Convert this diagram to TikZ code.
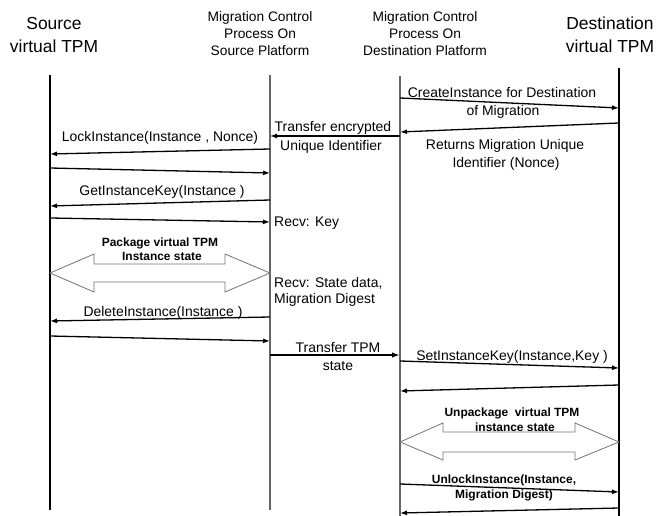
\documentclass[tikz,border=0pt]{standalone}
\usepackage{fontspec}
\setmainfont{Liberation Sans}
\usetikzlibrary{arrows.meta}

\begin{document}
\begin{tikzpicture}[x=1bp, y=-1bp,
  hdbig/.style={font=\fontsize{17.5}{23}\selectfont, align=center, inner sep=0pt},
  hdsmall/.style={font=\fontsize{13.8}{17}\selectfont, align=center, inner sep=0pt},
  msg/.style={font=\fontsize{14}{17}\selectfont, inner sep=0pt, anchor=base},
  bmsg/.style={font=\fontsize{12}{14}\selectfont\bfseries, inner sep=0pt, anchor=base},
  life/.style={line width=1.2bp},
  lifegray/.style={line width=1.2bp, draw=black!60},
  call/.style={line width=1.3bp, -{Latex[length=7bp,width=5bp]}},
  bigcall/.style={line width=2bp, -{Latex[length=8bp,width=5.5bp]}},
  fatarrow/.style={draw=black!55, line width=0.8bp, fill=white}
]
\useasboundingbox (0,0) rectangle (661,516);

% participant headings
\node[hdbig]   (hsrc) at (54,35)  {Source\\virtual TPM};
\node[hdsmall] (hmcs) at (260,34) {Migration Control\\Process On\\Source Platform};
\node[hdsmall] (hmcd) at (425,34) {Migration Control\\Process On\\Destination Platform};
\node[hdbig]   (hdst) at (610,35) {Destination\\virtual TPM};

% lifelines
\coordinate (s0) at (50,75);   \coordinate (s1) at (50,510);
\coordinate (a0) at (270,75);  \coordinate (a1) at (270,510);
\coordinate (b0) at (400,76);  \coordinate (b1) at (400,516);
\coordinate (d0) at (619,68);  \coordinate (d1) at (619,516);
\draw[life] (s0) -- (s1);
\draw[lifegray] (a0) -- (a1);
\draw[lifegray] (b0) -- (b1);
\draw[life] (d0) -- (d1);

% message end points
\coordinate (m1a) at (400,98);  \coordinate (m1b) at (619,108);
\coordinate (m2a) at (619,123); \coordinate (m2b) at (400,132);
\coordinate (m3a) at (400,136); \coordinate (m3b) at (270,136);
\coordinate (m4a) at (270,149); \coordinate (m4b) at (50,154);
\coordinate (m5a) at (50,168);  \coordinate (m5b) at (270,173);
\coordinate (m6a) at (270,200); \coordinate (m6b) at (50,206);
\coordinate (m7a) at (50,218);  \coordinate (m7b) at (270,222);
\coordinate (m9a) at (270,317); \coordinate (m9b) at (50,321);
\coordinate (m10a) at (50,336); \coordinate (m10b) at (270,341);
\coordinate (m11a) at (270,355); \coordinate (m11b) at (400,355);
\coordinate (m12a) at (400,361); \coordinate (m12b) at (619,368);
\coordinate (m13a) at (619,385); \coordinate (m13b) at (400,391);
\coordinate (m15a) at (400,484); \coordinate (m15b) at (619,492);
\coordinate (m16a) at (619,508); \coordinate (m16b) at (400,513);

% messages
\draw[call] (m1a) -- (m1b);
\draw[call] (m2a) -- (m2b);
\draw[call] (m3a) -- (m3b);
\draw[call] (m4a) -- (m4b);
\draw[call] (m5a) -- (m5b);
\draw[call] (m6a) -- (m6b);
\draw[call] (m7a) -- (m7b);
\draw[call] (m9a) -- (m9b);
\draw[call] (m10a) -- (m10b);
\draw[bigcall] (m11a) -- (m11b);
\draw[call] (m12a) -- (m12b);
\draw[call] (m13a) -- (m13b);
\draw[call] (m15a) -- (m15b);
\draw[call] (m16a) -- (m16b);

% message labels
\node[msg] (l1a) at (502,98)  {CreateInstance for Destination};
\node[msg] (l1b) at (503,116) {of Migration};
\node[msg] (l2a) at (505,150) {Returns Migration Unique};
\node[msg] (l2b) at (506,168) {Identifier (Nonce)};
\node[msg] (l3a) at (333,132) {Transfer encrypted};
\node[msg] (l3b) at (331,151) {Unique Identifier};
\node[msg] (l4)  at (160,142) {LockInstance(Instance , Nonce)};
\node[msg] (l6)  at (162,196) {GetInstanceKey(Instance )};
\node[msg, anchor=base west] (l7) at (274,227) {Recv: Key};
\node[msg, anchor=base west, align=left] (l8) at (274,287) {Recv: State data,};
\node[msg, anchor=base west] (l8b) at (274,303) {Migration Digest};
\node[msg] (l9)  at (163,316) {DeleteInstance(Instance )};
\node[msg] (l11a) at (338,352) {Transfer TPM};
\node[msg] (l11b) at (338,370) {state};
\node[msg] (l12) at (512,360) {SetInstanceKey(Instance,Key )};
\node[bmsg] (l14a) at (512,416) {Unpackage\ \ virtual TPM};
\node[bmsg] (l14b) at (515,431) {instance state};
\node[bmsg] (l15a) at (504,483) {UnlockInstance(Instance,};
\node[bmsg] (l15b) at (504,498) {Migration Digest)};
\node[bmsg] (l8a) at (160,247) {Package virtual TPM};
\node[bmsg] (l8c) at (162,261) {Instance state};

% two-headed block arrows
\draw[fatarrow] (50,273) -- (94,254) -- (94,264) -- (225,264) -- (225,254) -- (270,273)
  -- (225,292) -- (225,282) -- (94,282) -- (94,292) -- cycle;
\draw[fatarrow] (400,442) -- (443,423) -- (443,432) -- (575,432) -- (575,423) -- (619,442)
  -- (575,460) -- (575,452) -- (443,452) -- (443,460) -- cycle;
\end{tikzpicture}
\end{document}
